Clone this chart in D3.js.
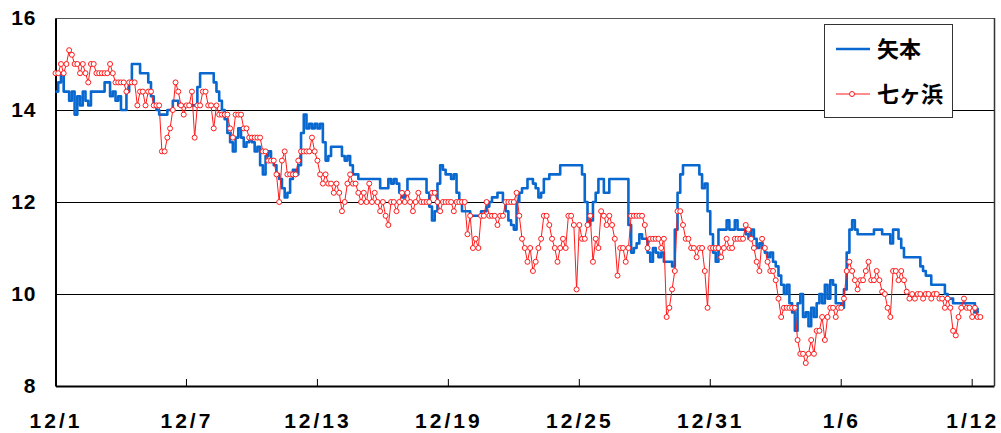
<!DOCTYPE html>
<html><head><meta charset="utf-8">
<script src="https://cdn.jsdelivr.net/npm/d3@7"></script>
<style>
html,body{margin:0;padding:0;background:#fff;}
svg{display:block;}
</style></head>
<body>
<svg id="c" width="1001" height="433"></svg>
<script>
// x tick labels (every 6 days starting 12/1)
const tickDays = [0, 6, 12, 18, 24, 30, 36, 42];
const tickLabels = ["12/1", "12/7", "12/13", "12/19", "12/25", "12/31", "1/6", "1/12"];
const yTicks = [8, 10, 12, 14, 16];
const seriesNames = ["矢本", "七ヶ浜"];
// 3-hourly readings starting 12/1 00:00 (day offsets i*0.125)
const yamoto = [
14.4,14.6,14.8,14.4,14.4,14.2,14.4,13.9,
14.3,14.1,14.4,14.2,14.1,14.4,14.4,14.4,
14.4,14.4,14.6,14.6,14.3,14.4,14.2,14.3,
14.0,14.0,14.4,14.6,15.0,15.0,15.0,14.8,
14.8,14.8,14.6,14.3,14.1,14.0,13.9,13.9,
13.9,14.0,14.0,14.2,14.2,14.1,14.1,14.1,
14.1,14.1,14.1,14.1,14.5,14.8,14.8,14.8,
14.8,14.8,14.6,14.4,14.2,14.0,13.8,13.5,
13.3,13.1,13.4,13.6,13.4,13.2,13.3,13.4,
13.3,13.1,13.2,12.8,12.6,13.0,13.1,12.9,
12.8,12.6,12.5,12.3,12.1,12.2,12.5,12.7,
12.6,12.8,13.5,13.9,13.6,13.7,13.6,13.7,
13.6,13.7,13.3,12.9,13.0,13.2,13.2,13.2,
13.2,13.0,12.9,13.0,12.8,12.6,12.6,12.5,
12.5,12.5,12.5,12.5,12.5,12.5,12.5,12.3,
12.3,12.3,12.5,12.4,12.5,12.4,12.2,12.1,
12.2,12.5,12.5,12.5,12.5,12.5,12.5,12.5,
12.2,11.9,11.6,11.8,12.4,12.8,12.7,12.6,
12.6,12.5,12.6,12.2,12.0,11.8,11.8,11.8,
11.7,11.7,11.7,11.7,11.8,11.8,11.9,12.0,
12.1,12.1,12.2,12.2,12.0,11.8,11.6,11.5,
11.4,12.0,12.2,12.3,12.3,12.5,12.5,12.4,
12.3,12.1,12.2,12.5,12.5,12.6,12.6,12.6,
12.6,12.8,12.8,12.8,12.8,12.8,12.8,12.8,
12.8,12.6,12.0,11.5,11.6,12.0,12.2,12.5,
12.5,12.2,12.2,12.5,12.5,12.5,12.5,12.5,
12.5,12.5,11.5,10.9,11.0,11.1,11.3,11.2,
11.2,10.9,10.7,11.0,10.9,10.8,10.9,10.7,
10.7,10.7,10.6,11.4,12.2,12.6,12.8,12.8,
12.8,12.8,12.8,12.8,12.6,12.3,12.4,11.8,
11.3,10.9,10.7,11.4,11.4,11.4,11.6,11.4,
11.4,11.6,11.4,11.4,11.4,11.3,11.2,11.4,
11.2,11.0,11.1,11.0,10.9,10.8,10.9,10.7,
10.6,10.4,10.2,10.0,10.2,9.8,9.6,9.2,
9.8,10.0,9.5,9.6,9.3,9.7,9.5,9.8,
10.0,9.8,10.2,9.9,10.3,10.2,9.8,9.8,
9.7,10.1,10.9,11.4,11.6,11.4,11.3,11.3,
11.3,11.3,11.3,11.3,11.4,11.4,11.4,11.3,
11.3,11.3,11.1,11.4,11.4,11.2,11.0,10.8,
10.8,10.8,10.8,10.8,10.8,10.6,10.5,10.4,
10.4,10.2,10.2,10.2,10.2,10.2,10.0,9.9,
9.9,9.8,9.8,9.8,9.8,9.8,9.8,9.8,
9.8,9.6,9.7
];
const shichigahama = [
14.8,14.8,15.0,14.8,15.0,15.3,15.2,15.0,
15.0,14.8,15.0,14.8,14.6,15.0,15.0,14.8,
14.8,14.8,14.8,14.8,15.0,14.8,14.6,14.6,
14.6,14.6,14.4,14.6,14.6,14.6,14.1,14.4,
14.4,14.1,14.4,14.4,14.1,14.1,14.1,13.1,
13.1,13.4,13.6,14.0,14.6,14.4,14.1,13.9,
14.1,14.1,14.4,13.4,14.1,14.1,14.4,14.4,
14.1,14.1,13.6,14.1,13.9,13.9,13.9,13.9,
13.6,13.4,13.9,13.9,13.9,13.6,13.6,13.4,
13.4,13.4,13.4,13.4,13.1,13.1,12.9,12.9,
12.9,12.6,12.0,12.9,13.1,12.6,12.6,12.6,
12.6,12.9,13.1,13.1,13.1,13.1,13.4,13.1,
12.9,12.6,12.4,12.6,12.4,12.4,12.2,12.4,
12.2,11.8,12.0,12.4,12.6,12.4,12.4,12.2,
12.0,12.2,12.0,12.4,12.0,12.2,12.0,11.8,
12.0,11.7,11.5,12.0,12.0,11.8,12.0,12.2,
12.0,12.2,12.0,11.8,12.0,12.2,12.0,12.0,
12.0,12.0,12.2,12.2,12.0,11.8,12.0,12.0,
12.0,12.0,11.8,12.0,12.0,12.0,12.0,11.3,
11.7,11.0,11.2,11.0,11.7,11.7,12.0,11.7,
11.7,11.7,11.5,11.7,11.7,12.0,12.0,12.0,
12.0,12.2,11.7,11.2,11.0,10.7,11.0,10.5,
10.7,11.0,11.2,11.7,11.7,11.5,11.2,11.0,
10.7,11.0,11.2,11.0,11.7,11.7,11.5,10.1,
11.5,11.2,11.2,11.5,11.7,10.7,11.2,11.0,
11.8,11.7,11.5,11.7,11.5,11.2,10.4,11.0,
11.0,10.7,11.0,11.7,11.7,11.7,11.7,11.7,
11.5,11.0,11.2,11.2,11.2,11.2,11.0,11.2,
9.5,9.7,10.1,10.5,11.8,11.8,11.5,11.2,
11.2,11.0,11.0,10.8,11.0,11.0,10.5,9.7,
11.0,11.0,11.0,11.0,10.8,11.0,11.2,11.0,
11.0,11.2,11.2,11.2,11.2,11.5,11.4,11.2,
11.0,10.7,10.5,11.2,11.0,10.7,10.5,10.5,
10.3,9.9,9.5,9.7,9.7,9.7,9.7,9.7,
9.0,8.7,8.7,8.5,8.7,9.0,8.7,9.2,
9.2,9.5,9.0,9.5,9.7,9.7,9.5,9.7,
9.7,9.9,10.5,10.7,10.5,10.3,10.1,10.3,
10.3,10.5,10.7,10.3,10.3,10.5,10.3,10.05,
10.0,9.7,9.5,10.5,10.5,10.3,10.5,10.3,
10.05,9.9,10.0,9.9,10.0,10.0,9.9,10.0,
10.0,9.9,10.0,10.0,9.9,9.9,9.7,9.9,
9.7,9.2,9.1,9.5,9.7,9.9,9.7,9.7,
9.5,9.7,9.5,9.5
];
const stepDays = 0.125;

const svg = d3.select("#c");
const L = 55.5, R = 994, T = 18, B = 386;
const x = d3.scaleLinear().domain([0, 43]).range([L, R]);
const y = d3.scaleLinear().domain([8, 16]).range([B, T]);

// grid lines
svg.append("g").selectAll("line").data([10, 12, 14]).join("line")
  .attr("x1", L).attr("x2", R)
  .attr("y1", d => Math.round(y(d)) + 0.5).attr("y2", d => Math.round(y(d)) + 0.5)
  .attr("stroke", "#000").attr("stroke-width", 1);

// frame top/right
svg.append("line").attr("x1", L).attr("x2", R).attr("y1", T + 0.5).attr("y2", T + 0.5)
  .attr("stroke", "#555").attr("stroke-width", 1);
svg.append("line").attr("x1", R + 0.5).attr("x2", R + 0.5).attr("y1", T).attr("y2", B)
  .attr("stroke", "#333").attr("stroke-width", 1.5);

// axes
const yAxis = d3.axisLeft(y).tickValues(yTicks).tickSize(0).tickPadding(19).tickFormat(d3.format("d"));
const gy = svg.append("g").attr("transform", `translate(${L},0)`).call(yAxis);
gy.select(".domain").attr("stroke", "#000").attr("stroke-width", 2);
gy.selectAll("text").attr("font-family", "Liberation Sans, Arial, sans-serif")
  .attr("font-weight", "bold").attr("font-size", 21).attr("fill", "#000")
  .attr("letter-spacing", "1px");

const xAxis = d3.axisBottom(x).tickValues(tickDays).tickSize(0).tickPadding(27)
  .tickFormat((d, i) => tickLabels[i]);
const gx = svg.append("g").attr("transform", `translate(0,${B})`).call(xAxis);
gx.select(".domain").attr("stroke", "#000").attr("stroke-width", 2);
gx.selectAll("text").attr("font-family", "Liberation Sans, Arial, sans-serif")
  .attr("font-weight", "bold").attr("font-size", 21).attr("fill", "#000")
  .attr("letter-spacing", "3px");
// inward tick marks
svg.append("g").selectAll("line").data(tickDays.slice(1)).join("line")
  .attr("x1", d => x(d)).attr("x2", d => x(d))
  .attr("y1", B).attr("y2", B - 7)
  .attr("stroke", "#000").attr("stroke-width", 1);

// series
const blueC = "#0868cf", redC = "#ff1a1a";
const lineBlue = d3.line().x((d, i) => x(i * stepDays)).y(d => y(d)).curve(d3.curveStepAfter);
const lineRed = d3.line().x((d, i) => x(i * stepDays)).y(d => y(d));
svg.append("path").datum(yamoto).attr("d", lineBlue)
  .attr("fill", "none").attr("stroke", blueC).attr("stroke-width", 2.6)
  .attr("stroke-linejoin", "round");
svg.append("path").datum(shichigahama).attr("d", lineRed)
  .attr("fill", "none").attr("stroke", redC).attr("stroke-width", 1);
svg.append("g").selectAll("circle").data(shichigahama).join("circle")
  .attr("cx", (d, i) => x(i * stepDays)).attr("cy", d => y(d)).attr("r", 2.5)
  .attr("fill", "#fff").attr("stroke", redC).attr("stroke-width", 1);

// legend
const lg = svg.append("g");
lg.append("rect").attr("x", 824.5).attr("y", 24.5).attr("width", 128).attr("height", 93)
  .attr("fill", "#fff").attr("stroke", "#333").attr("stroke-width", 1);
lg.append("line").attr("x1", 836).attr("x2", 870).attr("y1", 49).attr("y2", 49)
  .attr("stroke", blueC).attr("stroke-width", 2.6);
lg.append("line").attr("x1", 836).attr("x2", 870).attr("y1", 94).attr("y2", 94)
  .attr("stroke", redC).attr("stroke-width", 1);
lg.append("circle").attr("cx", 852).attr("cy", 94).attr("r", 2.5)
  .attr("fill", "#fff").attr("stroke", redC);
lg.selectAll("text").data(seriesNames).join("text")
  .attr("x", 877).attr("y", (d, i) => i === 0 ? 49 : 94)
  .attr("dy", "0.36em")
  .attr("font-family", "Noto Sans CJK JP, sans-serif").attr("font-weight", "bold")
  .attr("font-size", 22).attr("fill", "#000").text(d => d);
</script>
</body></html>
